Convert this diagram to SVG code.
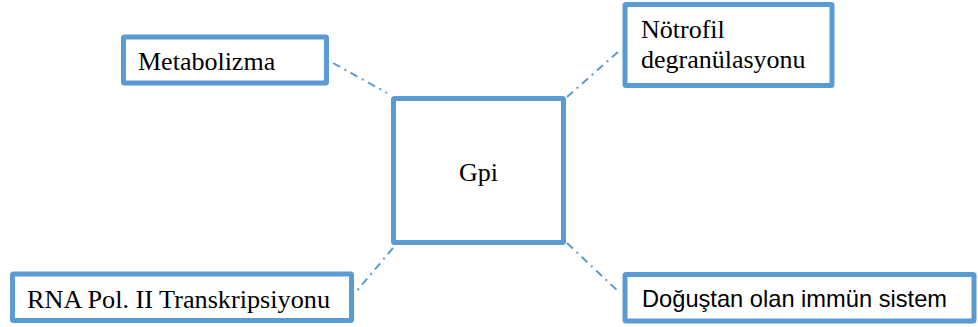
<svg xmlns="http://www.w3.org/2000/svg" width="978" height="327" viewBox="0 0 978 327">
<style>
.box{fill:#ffffff;stroke:#5b9bd5;stroke-width:5;}
.serif{font-family:'Liberation Serif','Times New Roman','DejaVu Serif',serif;font-size:26px;fill:#000000;}
.sans{font-family:'Liberation Sans',Arial,sans-serif;font-size:24px;fill:#000000;}
.conn{stroke:#5b9bd5;stroke-width:2;fill:none;stroke-dasharray:8 5 2 5;}
</style>
<rect width="978" height="327" fill="#ffffff"/>
<g id="connectors">
<line class="conn" x1="333" y1="63" x2="387" y2="93"/>
<line class="conn" x1="567" y1="97" x2="619" y2="51"/>
<line class="conn" x1="393" y1="248" x2="355" y2="293"/>
<line class="conn" x1="567" y1="243" x2="619" y2="292"/>
</g>
<g id="gpi">
<rect class="box" x="393.5" y="98.5" width="170" height="144" rx="1"/>
<text class="serif" font-family="Liberation Serif, serif" x="478.5" y="181" text-anchor="middle">Gpi</text>
</g>
<g id="metabolizma">
<rect class="box" x="123.5" y="37" width="203" height="46" rx="1"/>
<text class="serif" font-family="Liberation Serif, serif" x="138" y="70">Metabolizma</text>
</g>
<g id="notrofil">
<rect class="box" x="625" y="4.5" width="207" height="81" rx="1"/>
<text class="serif" font-family="Liberation Serif, serif" x="641" y="38">Nötrofil</text>
<text class="serif" font-family="Liberation Serif, serif" x="641" y="68">degranülasyonu</text>
</g>
<g id="rna">
<rect class="box" x="12.5" y="274" width="339" height="46.5" rx="1"/>
<text class="serif" font-family="Liberation Serif, serif" x="27" y="308" textLength="303" lengthAdjust="spacingAndGlyphs">RNA Pol. II Transkripsiyonu</text>
</g>
<g id="dogustan">
<rect class="box" x="625" y="274.5" width="349" height="46.5" rx="1"/>
<text class="sans" x="642" y="307" textLength="305" lengthAdjust="spacingAndGlyphs">Doğuştan olan immün sistem</text>
</g>
</svg>
